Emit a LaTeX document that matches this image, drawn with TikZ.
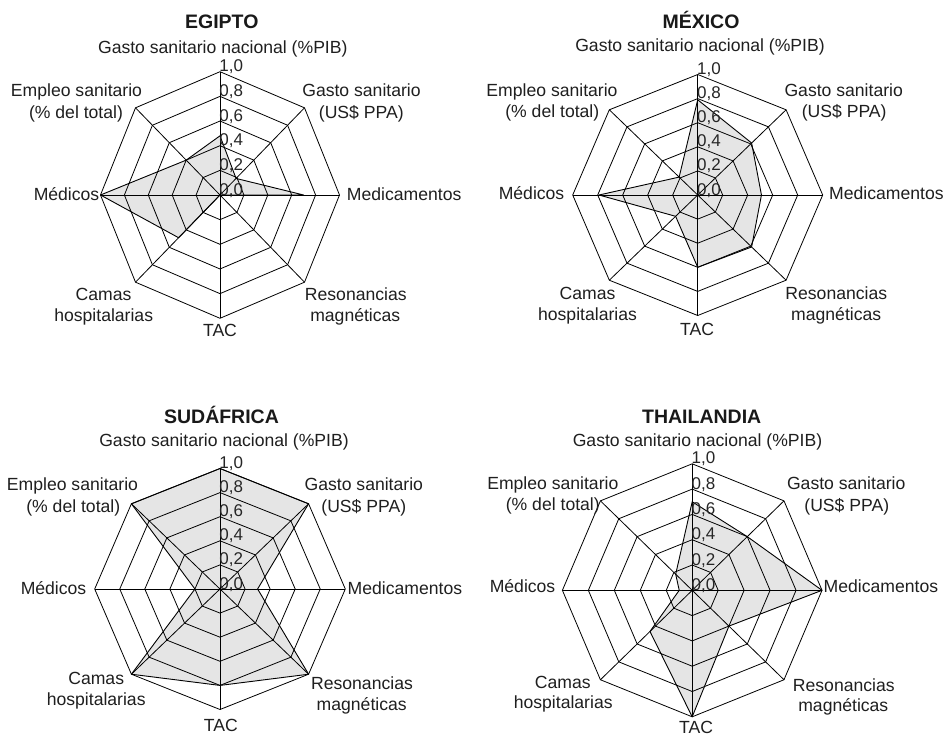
\documentclass[tikz,border=0pt]{standalone}
\usepackage{fontspec}
\setmainfont{Liberation Sans}

\tikzset{
  gridline/.style={draw=black, line width=0.8pt},
  dataline/.style={draw=black, line width=0.9pt, line join=round},
  datafill/.style={fill=black!10},
  ticklabel/.style={anchor=base west, inner sep=0pt, xshift=-0.8pt,
    font=\fontsize{17}{20}\selectfont, text=black!85},
  axislabel/.style={anchor=base, inner sep=0pt,
    font=\fontsize{17.6}{21}\selectfont, text=black!88},
  leftlabel/.style={axislabel, anchor=base east},
  rightlabel/.style={axislabel, anchor=base west},
  charttitle/.style={anchor=base, inner sep=0pt,
    font=\bfseries\fontsize{19.5}{23}\selectfont, text=black!90},
  chart/.style n args={4}{shift={(#1,#2)}, x=#3pt, y=#4pt},
}

% #1 name prefix, #2..#9 values: top, NE, E, SE, S, SW, W, NW
\newcommand{\radar}[9]{%
  \fill[datafill] (90:#2) -- (45:#3) -- (0:#4) -- (-45:#5) -- (-90:#6)
    -- (-135:#7) -- (180:#8) -- (135:#9) -- cycle;
  \foreach \rv in {0.2,0.4,0.6,0.8,1}
    \draw[gridline] (0:\rv) -- (45:\rv) -- (90:\rv) -- (135:\rv) -- (180:\rv)
      -- (225:\rv) -- (270:\rv) -- (315:\rv) -- cycle;
  \foreach \av in {0,45,...,315}
    \draw[gridline] (0,0) -- (\av:1);
  \draw[dataline] (90:#2) -- (45:#3) -- (0:#4) -- (-45:#5) -- (-90:#6)
    -- (-135:#7) -- (180:#8) -- (135:#9) -- cycle;
  \node[ticklabel] (#1-t0) at (90:0) {0,0};
  \node[ticklabel] (#1-t2) at (90:0.2) {0,2};
  \node[ticklabel] (#1-t4) at (90:0.4) {0,4};
  \node[ticklabel] (#1-t6) at (90:0.6) {0,6};
  \node[ticklabel] (#1-t8) at (90:0.8) {0,8};
  \node[ticklabel] (#1-t10) at (90:1) {1,0};
}

\begin{document}
\begin{tikzpicture}[x=1pt,y=-1pt]
\useasboundingbox (0,0) rectangle (945,737);
\fill[white] (0,0) rectangle (945,737);

% ---------------- Egipto ----------------
\begin{scope}[chart={220}{195}{119.5}{123.3}]
  \radar{eg}{0.48}{0.19}{0.70}{0}{0}{0.49}{1}{0.40}
\end{scope}
\node[charttitle] (eg-title) at (221.8,28.5) {EGIPTO};
\node[axislabel] (eg-gn) at (222.8,53) {Gasto sanitario nacional (\%PIB)};
\node[axislabel] (eg-em1) at (76.5,96.3) {Empleo sanitario};
\node[axislabel] (eg-em2) at (76,118) {(\% del total)};
\node[axislabel] (eg-gs1) at (361.5,96.3) {Gasto sanitario};
\node[axislabel] (eg-gs2) at (361.3,118) {(US\$ PPA)};
\node[leftlabel] (eg-med) at (99.5,200.7) {Médicos};
\node[rightlabel] (eg-mdc) at (346.7,200.7) {Medicamentos};
\node[axislabel] (eg-ca1) at (103.5,300) {Camas};
\node[axislabel] (eg-ca2) at (103.7,321) {hospitalarias};
\node[axislabel] (eg-re1) at (355.8,300) {Resonancias};
\node[axislabel] (eg-re2) at (355.3,321) {magnéticas};
\node[axislabel] (eg-tac) at (220,336.7) {TAC};

% ---------------- México ----------------
\begin{scope}[chart={697.7}{195}{125}{120.5}]
  \radar{mx}{0.79}{0.61}{0.51}{0.61}{0.6}{0.25}{0.79}{0.21}
\end{scope}
\node[charttitle] (mx-title) at (701,28.3) {MÉXICO};
\node[axislabel] (mx-gn) at (700,51.7) {Gasto sanitario nacional (\%PIB)};
\node[axislabel] (mx-em1) at (552,96.5) {Empleo sanitario};
\node[axislabel] (mx-em2) at (552.3,117.3) {(\% del total)};
\node[axislabel] (mx-gs1) at (843.7,96.3) {Gasto sanitario};
\node[axislabel] (mx-gs2) at (844.2,117.3) {(US\$ PPA)};
\node[leftlabel] (mx-med) at (564.5,199.3) {Médicos};
\node[rightlabel] (mx-mdc) at (829,199.3) {Medicamentos};
\node[axislabel] (mx-ca1) at (587.5,299) {Camas};
\node[axislabel] (mx-ca2) at (587.5,320) {hospitalarias};
\node[axislabel] (mx-re1) at (836.3,299) {Resonancias};
\node[axislabel] (mx-re2) at (836.2,320) {magnéticas};
\node[axislabel] (mx-tac) at (697,335) {TAC};

% ---------------- Sudáfrica ----------------
\begin{scope}[chart={220}{589}{125.3}{120.5}]
  \radar{za}{1}{1}{0.3}{1}{0.8}{1}{0.2}{1}
\end{scope}
\node[charttitle] (za-title) at (221.5,423.3) {SUDÁFRICA};
\node[axislabel] (za-gn) at (224,446) {Gasto sanitario nacional (\%PIB)};
\node[axislabel] (za-em1) at (72.5,490.7) {Empleo sanitario};
\node[axislabel] (za-em2) at (73.3,512.7) {(\% del total)};
\node[axislabel] (za-gs1) at (363.8,490.7) {Gasto sanitario};
\node[axislabel] (za-gs2) at (363.8,512.3) {(US\$ PPA)};
\node[leftlabel] (za-med) at (86.5,594.3) {Médicos};
\node[rightlabel] (za-mdc) at (347.5,594.3) {Medicamentos};
\node[axislabel] (za-ca1) at (96.2,684.5) {Camas};
\node[axislabel] (za-ca2) at (96.2,705.3) {hospitalarias};
\node[axislabel] (za-re1) at (362,689) {Resonancias};
\node[axislabel] (za-re2) at (361.7,710) {magnéticas};
\node[axislabel] (za-tac) at (220.8,731) {TAC};

% ---------------- Thailandia ----------------
\begin{scope}[chart={692.2}{590.3}{129.8}{126.5}]
  \radar{th}{0.7}{0.6}{1}{0.4}{1}{0.46}{0.1}{0.18}
\end{scope}
\node[charttitle] (th-title) at (701.7,423.3) {THAILANDIA};
\node[axislabel] (th-gn) at (697.5,446.7) {Gasto sanitario nacional (\%PIB)};
\node[axislabel] (th-em1) at (552.8,489.3) {Empleo sanitario};
\node[axislabel] (th-em2) at (552.8,510.7) {(\% del total)};
\node[axislabel] (th-gs1) at (846.2,489.5) {Gasto sanitario};
\node[axislabel] (th-gs2) at (846.8,511) {(US\$ PPA)};
\node[leftlabel] (th-med) at (555.5,592.3) {Médicos};
\node[rightlabel] (th-mdc) at (823.5,592.3) {Medicamentos};
\node[axislabel] (th-ca1) at (562.8,688.3) {Camas};
\node[axislabel] (th-ca2) at (563.2,708.3) {hospitalarias};
\node[axislabel] (th-re1) at (843.8,691.7) {Resonancias};
\node[axislabel] (th-re2) at (843.3,711.7) {magnéticas};
\node[axislabel] (th-tac) at (696,733.5) {TAC};
\end{tikzpicture}
\end{document}
